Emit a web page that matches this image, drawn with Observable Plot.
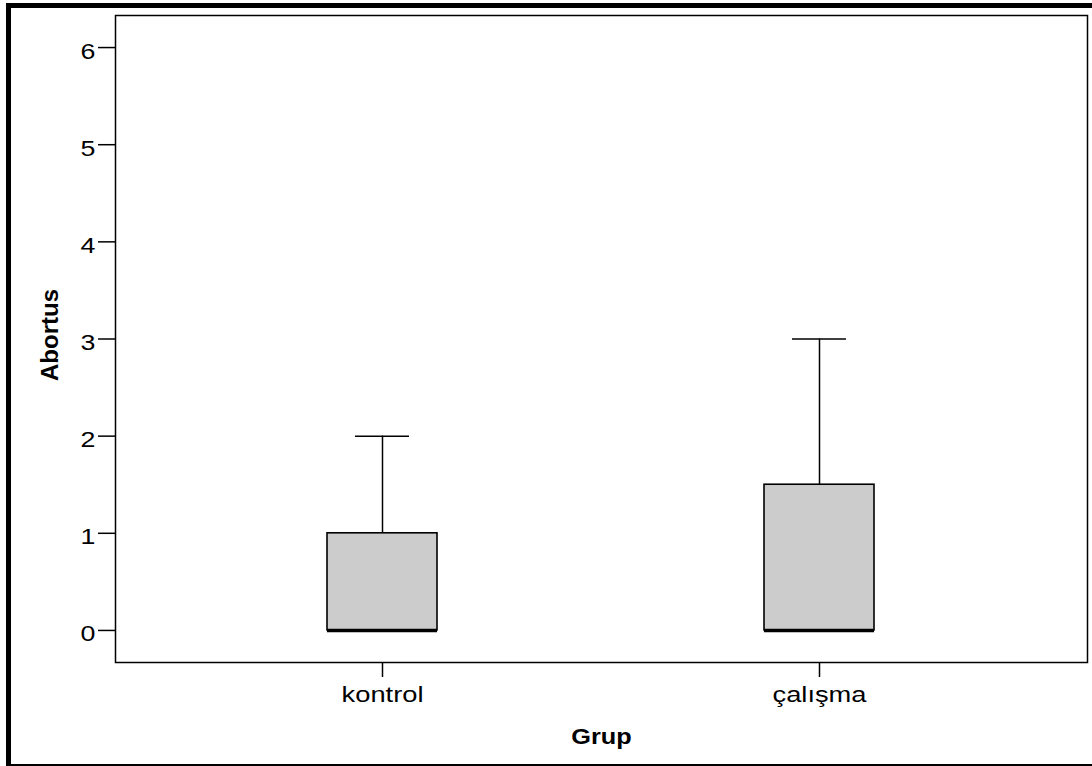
<!DOCTYPE html>
<html>
<head>
<meta charset="utf-8">
<script src="https://cdn.jsdelivr.net/npm/d3@7"></script>
<script src="https://cdn.jsdelivr.net/npm/@observablehq/plot@0.6"></script>
<style>
  html, body { margin: 0; padding: 0; background: #fff; }
  #wrap { position: relative; width: 1092px; height: 766px; overflow: hidden; }
  #wrap svg { position: absolute; left: 0; top: 0; font-family: "Liberation Sans", Arial, sans-serif; }
  .edge { position: absolute; background: #000; }
</style>
</head>
<body>
<div id="wrap">
  <div class="edge" style="left:6px; top:3px; width:1086px; height:5px;"></div>
  <div class="edge" style="left:6px; top:3px; width:5px; height:763px;"></div>
  <div class="edge" style="left:6px; top:764px; width:1086px; height:2px;"></div>
</div>
<script>
// Data
const groups  = ["kontrol", "çalışma"];
const mins    = [0, 0];
const q1s     = [0, 0];
const medians = [0, 0];
const q3s     = [1, 1.5];
const maxs    = [2, 3];
const yTicks  = [0, 1, 2, 3, 4, 5, 6];
const xTitle  = "Grup";
const yTitle  = "Abortus";

const stats = groups.map((g, i) => ({
  group: g, min: mins[i], q1: q1s[i], median: medians[i], q3: q3s[i], max: maxs[i]
}));

const chart = Plot.plot({
  width: 1092,
  height: 766,
  marginLeft: 115,
  marginTop: 15,
  marginRight: 5,
  marginBottom: 104,
  style: { background: "transparent", fontFamily: "Liberation Sans, Arial, sans-serif" },
  x: { type: "band", domain: groups, paddingInner: 0.748, paddingOuter: 0.486 },
  y: { domain: [-0.33, 6.33] },
  marks: [
    Plot.ruleX(stats, { x: "group", y1: "q3", y2: "max", stroke: "black", strokeWidth: 1.5 }),
    Plot.ruleX(stats, { x: "group", y1: "min", y2: "q1", stroke: "black", strokeWidth: 1.5 }),
    Plot.tickY(stats, { x: "group", y: "max", stroke: "black", strokeWidth: 1.5, insetLeft: 28, insetRight: 28 }),
    Plot.tickY(stats, { x: "group", y: "min", stroke: "black", strokeWidth: 1.5, insetLeft: 28, insetRight: 28 }),
    Plot.barY(stats, { x: "group", y1: "q1", y2: "q3", fill: "#cccccc", stroke: "black", strokeWidth: 1.6 }),
    Plot.tickY(stats, { x: "group", y: "median", stroke: "black", strokeWidth: 3.5 }),
    Plot.frame({ stroke: "black", strokeWidth: 1.5 }),
    // y ticks (lines only)
    Plot.axisY({ ticks: yTicks, tickFormat: () => "", tickSize: 17, label: null, strokeWidth: 1.5, color: "black" }),
    // y tick labels (text only, sitting slightly below the tick line as in the reference)
    Plot.axisY({ ticks: yTicks, tickFormat: d3.format("d"), tickSize: 0, tickPadding: 20, fontSize: 22, dy: 4, label: null, color: "black" }),
    Plot.axisX({ tickSize: 15, tickPadding: 9, fontSize: 22, label: null, strokeWidth: 1.5, color: "black" }),
    Plot.text([yTitle], { frameAnchor: "left", textAnchor: "middle", lineAnchor: "middle", rotate: -90, dx: -65, dy: -4, fontSize: 24, fontWeight: "bold", fill: "black" }),
    Plot.text([xTitle], { frameAnchor: "bottom", textAnchor: "middle", lineAnchor: "middle", dy: 74, fontSize: 22, fontWeight: "bold", fill: "black" })
  ]
});

const wrap = document.getElementById("wrap");
wrap.insertBefore(chart, wrap.firstChild);

// SPSS output is slightly stretched horizontally: widen horizontal texts
function stretchEl(t, k) {
  const L = t.getComputedTextLength();
  if (L > 0) {
    t.setAttribute("textLength", (L * k).toFixed(1));
    t.setAttribute("lengthAdjust", "spacingAndGlyphs");
  }
}
chart.querySelectorAll('g[aria-label="x-axis tick label"] text').forEach(t => stretchEl(t, 1.24));
chart.querySelectorAll('g[aria-label="y-axis tick label"] text').forEach(t => stretchEl(t, 1.22));
chart.querySelectorAll('text').forEach(t => { if (t.textContent === xTitle) stretchEl(t, 1.15); });
</script>
</body>
</html>
